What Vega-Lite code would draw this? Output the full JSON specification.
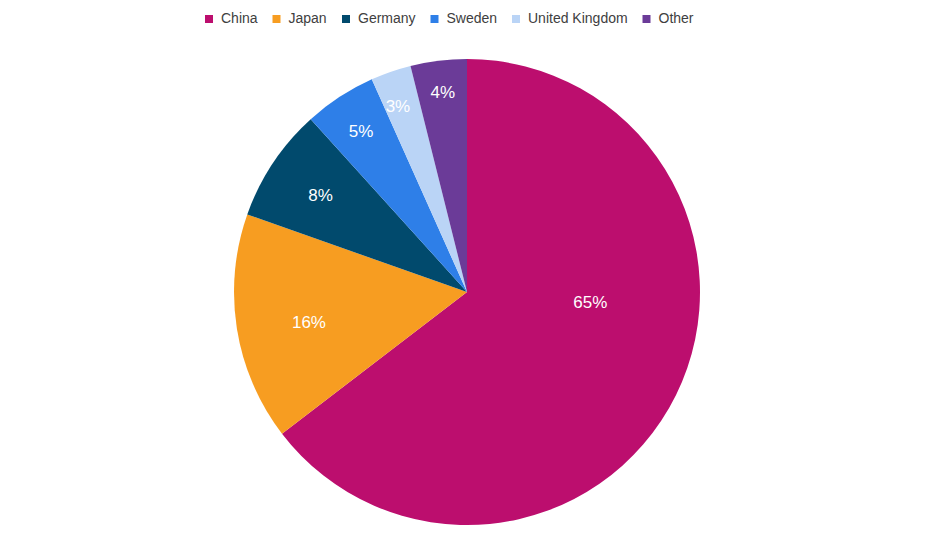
{
  "$schema": "https://vega.github.io/schema/vega-lite/v6.json",
  "width": 934,
  "height": 516,
  "autosize": "none",
  "padding": {"left": 0, "right": 12, "top": 34, "bottom": 0},
  "background": "white",
  "data": {
    "values": [
      {"country": "China", "share": 0.646, "rank": 1},
      {"country": "Japan", "share": 0.158, "rank": 2},
      {"country": "Germany", "share": 0.079, "rank": 3},
      {"country": "Sweden", "share": 0.050, "rank": 4},
      {"country": "United Kingdom", "share": 0.028, "rank": 5},
      {"country": "Other", "share": 0.039, "rank": 6}
    ]
  },
  "encoding": {
    "theta": {"field": "share", "type": "quantitative", "stack": true},
    "order": {"field": "rank", "type": "quantitative"}
  },
  "layer": [
    {
      "mark": {"type": "arc", "radius": 233, "stroke": null},
      "encoding": {
        "color": {
          "field": "country",
          "type": "nominal",
          "sort": ["China", "Japan", "Germany", "Sweden", "United Kingdom", "Other"],
          "scale": {
            "domain": ["China", "Japan", "Germany", "Sweden", "United Kingdom", "Other"],
            "range": ["#BC0E6E", "#F79D21", "#014A6D", "#2E7FE8", "#BAD4F6", "#6B3B98"]
          },
          "legend": {
            "title": null,
            "orient": "none",
            "legendX": 202,
            "legendY": -22,
            "direction": "horizontal",
            "symbolType": "square",
            "symbolSize": 64,
            "symbolStrokeWidth": 0,
            "labelFont": "Liberation Sans",
            "labelFontSize": 14,
            "labelColor": "#404040",
            "labelOffset": 5,
            "columnPadding": 11.5
          }
        }
      }
    },
    {
      "mark": {"type": "text", "radius": 123, "dx": 13, "dy": -43, "font": "Liberation Sans", "fontSize": 17, "fill": "white"},
      "encoding": {
        "text": {"field": "share", "type": "quantitative", "format": ".0%"},
        "opacity": {"condition": {"test": "datum.country === 'China'", "value": 1}, "value": 0}
      }
    },
    {
      "mark": {"type": "text", "radius": 160, "dy": 6, "font": "Liberation Sans", "fontSize": 17, "fill": "white"},
      "encoding": {
        "text": {"field": "share", "type": "quantitative", "format": ".0%"},
        "opacity": {"condition": {"test": "datum.country === 'Japan'", "value": 1}, "value": 0}
      }
    },
    {
      "mark": {"type": "text", "radius": 176, "dy": 2, "font": "Liberation Sans", "fontSize": 17, "fill": "white"},
      "encoding": {
        "text": {"field": "share", "type": "quantitative", "format": ".0%"},
        "opacity": {"condition": {"test": "datum.country === 'Germany'", "value": 1}, "value": 0}
      }
    },
    {
      "mark": {"type": "text", "radius": 194, "dy": 2, "font": "Liberation Sans", "fontSize": 17, "fill": "white"},
      "encoding": {
        "text": {"field": "share", "type": "quantitative", "format": ".0%"},
        "opacity": {"condition": {"test": "datum.country === 'Sweden'", "value": 1}, "value": 0}
      }
    },
    {
      "mark": {"type": "text", "radius": 198, "dy": -2, "font": "Liberation Sans", "fontSize": 17, "fill": "white"},
      "encoding": {
        "text": {"field": "share", "type": "quantitative", "format": ".0%"},
        "opacity": {"condition": {"test": "datum.country === 'Other'", "value": 1}, "value": 0}
      }
    },
    {
      "mark": {"type": "text", "radius": 196, "dx": -5, "font": "Liberation Sans", "fontSize": 17, "fill": "white"},
      "encoding": {
        "text": {"field": "share", "type": "quantitative", "format": ".0%"},
        "opacity": {"condition": {"test": "datum.country === 'United Kingdom'", "value": 1}, "value": 0}
      }
    }
  ],
  "config": {"view": {"stroke": null}}
}
